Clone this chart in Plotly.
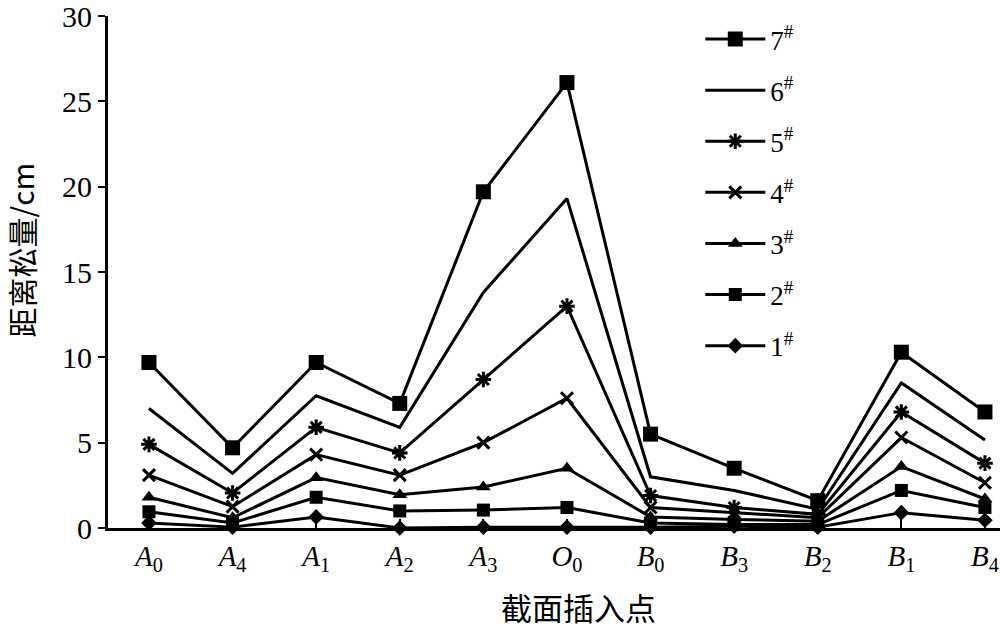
import plotly.graph_objects as go

categories = ["<i>A</i><sub>0</sub>", "<i>A</i><sub>4</sub>", "<i>A</i><sub>1</sub>", "<i>A</i><sub>2</sub>",
              "<i>A</i><sub>3</sub>", "<i>O</i><sub>0</sub>", "<i>B</i><sub>0</sub>", "<i>B</i><sub>3</sub>",
              "<i>B</i><sub>2</sub>", "<i>B</i><sub>1</sub>", "<i>B</i><sub>4</sub>"]

s1 = [0.3, 0.05, 0.65, 0.0, 0.05, 0.05, 0.05, 0.1, 0.05, 0.9, 0.45]
s2 = [0.95, 0.3, 1.8, 1.0, 1.05, 1.2, 0.3, 0.2, 0.2, 2.2, 1.2]
s3 = [1.8, 0.6, 2.95, 1.95, 2.4, 3.5, 0.65, 0.5, 0.4, 3.6, 1.7]
s4 = [3.1, 1.25, 4.3, 3.1, 5.0, 7.6, 1.2, 0.9, 0.6, 5.3, 2.65]
s5 = [4.9, 2.05, 5.9, 4.4, 8.7, 13.0, 1.9, 1.2, 0.8, 6.8, 3.8]
s6 = [7.0, 3.2, 7.75, 5.9, 13.8, 19.3, 3.0, 2.2, 1.1, 8.5, 5.15]
s7 = [9.7, 4.7, 9.7, 7.3, 19.7, 26.1, 5.5, 3.5, 1.6, 10.3, 6.8]

names = ["1<sup>#</sup>", "2<sup>#</sup>", "3<sup>#</sup>", "4<sup>#</sup>",
         "5<sup>#</sup>", "6<sup>#</sup>", "7<sup>#</sup>"]
series = [s1, s2, s3, s4, s5, s6, s7]

y_title = "距离松量/cm"
x_title = "截面插入点"

markers = [
    dict(symbol="diamond", size=12, color="black"),
    dict(symbol="square", size=13, color="black"),
    dict(symbol="triangle-up", size=13, color="black"),
    dict(symbol="x-thin", size=12, color="black", line=dict(width=3, color="black")),
    dict(symbol="asterisk", size=13, color="black", line=dict(width=3, color="black")),
    None,
    dict(symbol="square", size=15, color="black"),
]

serif = "Liberation Serif"
cjk = "Noto Sans CJK SC"

fig = go.Figure()
# add from 7# down to 1# so the legend lists 7# first
for i in reversed(range(len(series))):
    nm, vals, mk = names[i], series[i], markers[i]
    kw = dict(x=list(range(len(categories))), y=vals, name=nm,
              line=dict(color="black", width=3), cliponaxis=False, legendgroup=str(7 - i))
    if mk is None:
        fig.add_trace(go.Scatter(mode="lines", **kw))
    else:
        fig.add_trace(go.Scatter(mode="lines+markers", marker=mk, **kw))

fig.update_layout(
    width=1000, height=632,
    margin=dict(l=108, r=0, t=16, b=104),
    plot_bgcolor="white", paper_bgcolor="white",
    font=dict(family=serif, size=26, color="black"),
    showlegend=True,
    legend=dict(x=0.664, y=1.002, xanchor="left", yanchor="top", traceorder="grouped",
                tracegroupgap=13, font=dict(size=27, family=serif),
                bgcolor="rgba(0,0,0,0)", itemwidth=60, maxheight=1.0),
    xaxis=dict(
        tickmode="array", tickvals=list(range(len(categories))), ticktext=categories,
        range=[-0.49, 10.18], showline=True, linecolor="black", linewidth=3,
        ticks="inside", ticklen=9, tickwidth=2, tickcolor="black",
        showgrid=False, zeroline=False, automargin=False, ticklabeloverflow="allow",
        tickfont=dict(size=29, family=serif),
    ),
    yaxis=dict(
        range=[0, 30], tickvals=[0, 5, 10, 15, 20, 25, 30], showline=True, linecolor="black",
        linewidth=3, ticks="outside", ticklen=7, tickwidth=2, tickcolor="black",
        showgrid=False, zeroline=False, automargin=False, ticklabeloverflow="allow",
        tickfont=dict(size=30, family=serif),
    ),
    annotations=[
        dict(text=y_title, xref="paper", yref="paper", x=-0.097, y=0.543,
             xanchor="center", yanchor="middle", textangle=-90, showarrow=False,
             font=dict(size=30, family=cjk)),
        dict(text=x_title, xref="paper", yref="paper", x=0.527, y=-0.154,
             xanchor="center", yanchor="middle", showarrow=False,
             font=dict(size=31, family=cjk)),
    ],
)

# remove the browser's default 8px body margin so the figure fills the window exactly
fig.write_html("out.html", config={"displayModeBar": False},
               post_script="document.body.style.margin='0';document.body.style.overflow='hidden';")
